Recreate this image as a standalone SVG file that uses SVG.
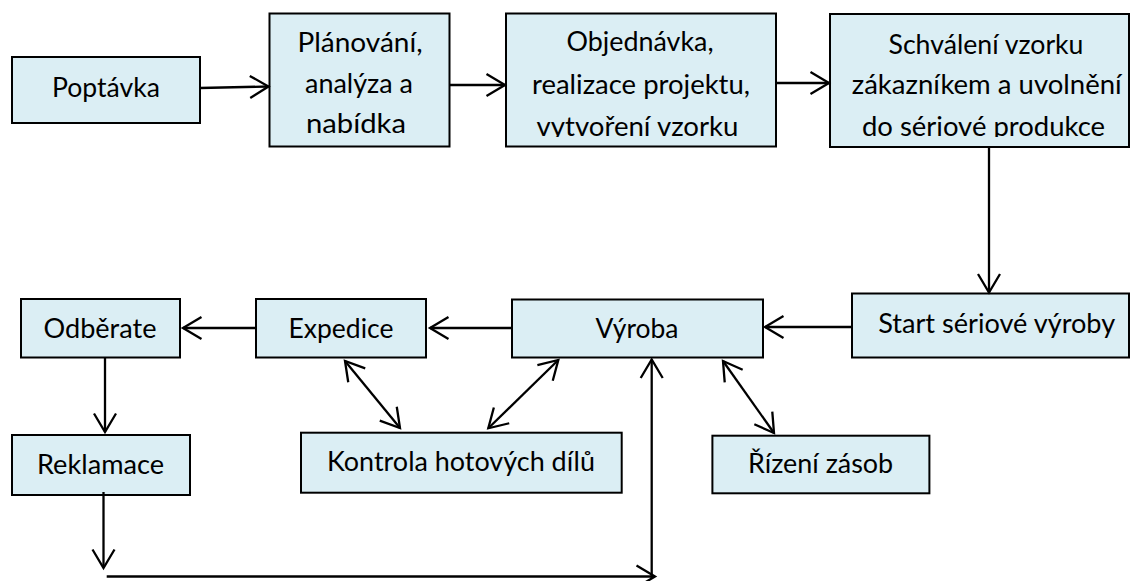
<svg xmlns="http://www.w3.org/2000/svg" width="1132" height="581" viewBox="0 0 1132 581">
<style>
.box{fill:#DBEEF4;stroke:#000;stroke-width:2}
.t{font-family:Lato,"Liberation Sans",sans-serif;font-size:26px;fill:#000;text-anchor:middle}
.c{fill:none;stroke:#000;stroke-width:2.3}
</style>
<defs>
<marker id="ah" viewBox="-22 -13 26 26" refX="0" refY="0" markerWidth="26" markerHeight="26" markerUnits="userSpaceOnUse" orient="auto-start-reverse">
<path d="M-18.5,-11 L0,0 L-18.5,11" fill="none" stroke="#000" stroke-width="2.3"/>
</marker>
<clipPath id="clipObj"><rect x="500" y="10" width="280" height="127"/></clipPath>
<clipPath id="clipSch"><rect x="825" y="10" width="310" height="127"/></clipPath>
</defs>
<rect width="1132" height="581" fill="#fff"/>
<g id="poptavka">
<rect class="box" x="12" y="57" width="188" height="66"/>
<text class="t" x="106" y="97" textLength="108" lengthAdjust="spacingAndGlyphs">Poptávka</text>
</g>
<g id="planovani">
<rect class="box" x="269.5" y="13.5" width="180" height="133"/>
<text class="t" x="360" y="52" textLength="125" lengthAdjust="spacingAndGlyphs">Plánování,</text>
<text class="t" x="359" y="92.5" textLength="108" lengthAdjust="spacingAndGlyphs">analýza a</text>
<text class="t" x="356" y="133" textLength="100" lengthAdjust="spacingAndGlyphs">nabídka</text>
</g>
<g id="objednavka">
<rect class="box" x="506" y="13.5" width="270" height="133"/>
<g clip-path="url(#clipObj)">
<text class="t" x="640" y="51" textLength="147" lengthAdjust="spacingAndGlyphs">Objednávka,</text>
<text class="t" x="641" y="93.5" textLength="218" lengthAdjust="spacingAndGlyphs">realizace projektu,</text>
<text class="t" x="637.5" y="135.5" textLength="202" lengthAdjust="spacingAndGlyphs">vytvoření vzorku</text>
</g>
</g>
<g id="schvaleni">
<rect class="box" x="830" y="14" width="299" height="133"/>
<g clip-path="url(#clipSch)">
<text class="t" x="986" y="53.5" textLength="195" lengthAdjust="spacingAndGlyphs">Schválení vzorku</text>
<text class="t" x="986.7" y="94" textLength="270" lengthAdjust="spacingAndGlyphs">zákazníkem a uvolnění</text>
<text class="t" x="983.5" y="135.5" textLength="243" lengthAdjust="spacingAndGlyphs">do sériové produkce</text>
</g>
</g>
<g id="start">
<rect class="box" x="852" y="293.5" width="277" height="64"/>
<text class="t" x="996.7" y="333" textLength="237" lengthAdjust="spacingAndGlyphs">Start sériové výroby</text>
</g>
<g id="vyroba">
<rect class="box" x="512" y="299.5" width="251" height="58"/>
<text class="t" x="637" y="338.3" textLength="83" lengthAdjust="spacingAndGlyphs">Výroba</text>
</g>
<g id="expedice">
<rect class="box" x="256" y="299" width="170" height="58.5"/>
<text class="t" x="341" y="337.5" textLength="105" lengthAdjust="spacingAndGlyphs">Expedice</text>
</g>
<g id="odberate">
<rect class="box" x="21" y="299" width="159" height="58.5"/>
<text class="t" x="100" y="338.3" textLength="113" lengthAdjust="spacingAndGlyphs">Odběrate</text>
</g>
<g id="reklamace">
<rect class="box" x="12" y="435" width="178" height="60"/>
<text class="t" x="100.5" y="474" textLength="127" lengthAdjust="spacingAndGlyphs">Reklamace</text>
</g>
<g id="kontrola">
<rect class="box" x="301" y="432.7" width="320.7" height="60"/>
<text class="t" x="461" y="470.7" textLength="268" lengthAdjust="spacingAndGlyphs">Kontrola hotových dílů</text>
</g>
<g id="rizeni">
<rect class="box" x="712.4" y="435.7" width="217" height="57.6"/>
<text class="t" x="820.6" y="473.3" textLength="145" lengthAdjust="spacingAndGlyphs">Řízení zásob</text>
</g>
<g id="connectors">
<line class="c" x1="200" y1="88" x2="268.5" y2="86.5" marker-end="url(#ah)"/>
<line class="c" x1="449.5" y1="85" x2="505" y2="85" marker-end="url(#ah)"/>
<line class="c" x1="776" y1="83" x2="829" y2="83" marker-end="url(#ah)"/>
<line class="c" x1="989" y1="147" x2="989" y2="292.5" marker-end="url(#ah)"/>
<line class="c" x1="852" y1="327" x2="765" y2="327" marker-end="url(#ah)"/>
<line class="c" x1="512" y1="328" x2="430" y2="328" marker-end="url(#ah)"/>
<line class="c" x1="256" y1="328" x2="183" y2="328" marker-end="url(#ah)"/>
<line class="c" x1="105" y1="357.5" x2="105" y2="432" marker-end="url(#ah)"/>
<line class="c" x1="103.5" y1="492" x2="103.5" y2="568" marker-end="url(#ah)"/>
<line class="c" x1="106.7" y1="576.5" x2="655" y2="576.5" marker-end="url(#ah)"/>
<line class="c" x1="651.7" y1="579" x2="651.7" y2="359.5" marker-end="url(#ah)"/>
<line class="c" x1="345" y1="361" x2="400" y2="428" marker-start="url(#ah)" marker-end="url(#ah)"/>
<line class="c" x1="488.3" y1="428.3" x2="558.3" y2="360" marker-start="url(#ah)" marker-end="url(#ah)"/>
<line class="c" x1="723" y1="361" x2="774" y2="433" marker-start="url(#ah)" marker-end="url(#ah)"/>
</g>
</svg>
